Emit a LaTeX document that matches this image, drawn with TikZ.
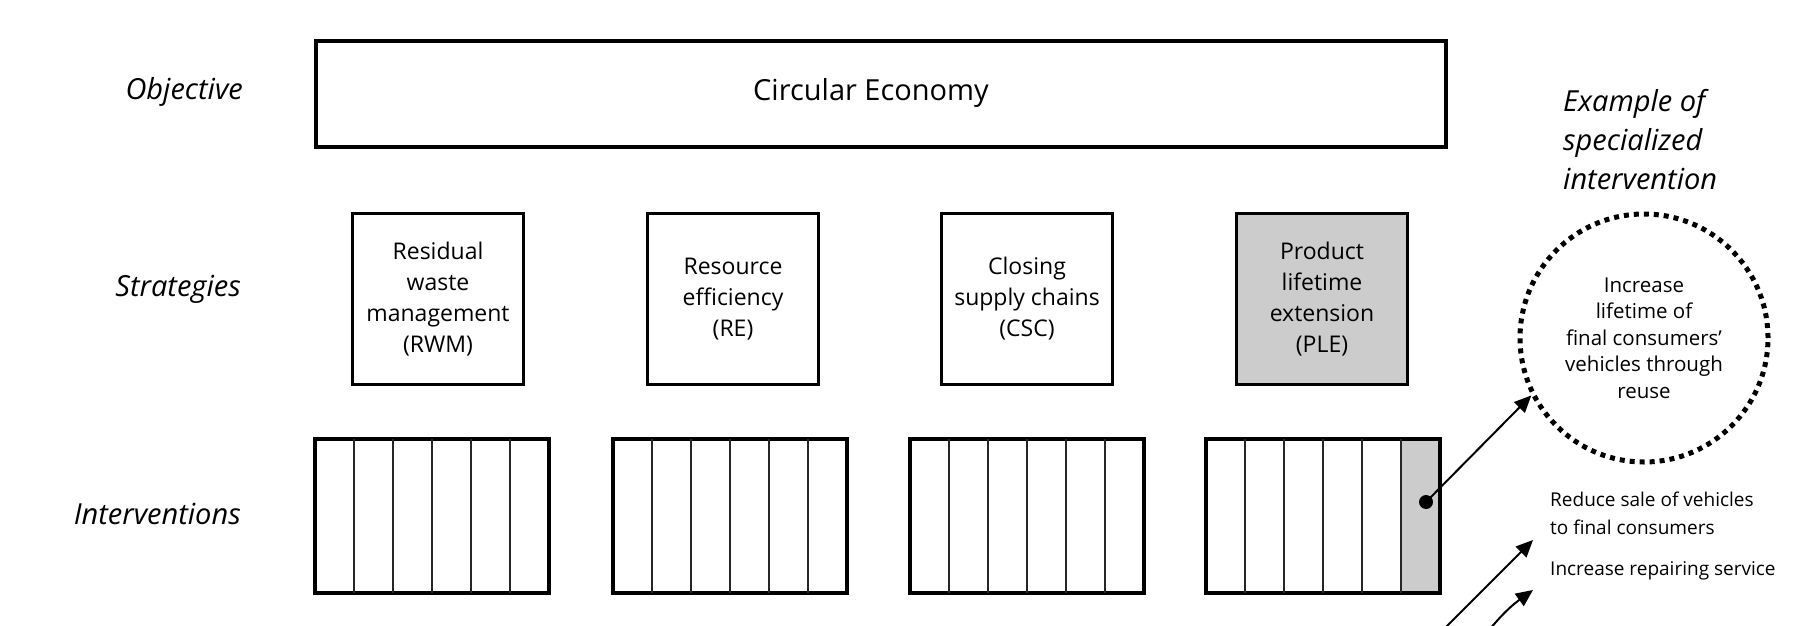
\documentclass[tikz,border=0pt]{standalone}
\usepackage{fontspec}
\setmainfont{Open Sans}
\usetikzlibrary{arrows.meta,calc,backgrounds,shapes.geometric}
\begin{document}
\begin{tikzpicture}[x=1pt,y=-1pt,
  rowlabel/.style={anchor=east,inner sep=0pt,font=\fontsize{29}{35}\selectfont\itshape},
  topbox/.style={draw,line width=4pt,minimum width=1130pt,minimum height=106pt,inner sep=0pt,outer sep=0pt},
  bigtext/.style={inner sep=0pt,font=\fontsize{29}{35}\selectfont},
  stratbox/.style={draw,line width=3.5pt,minimum width=171pt,minimum height=171pt,inner sep=0pt,outer sep=0pt,align=center,font=\fontsize{23}{31}\selectfont},
  intbox/.style={draw,line width=4.5pt,minimum width=234pt,minimum height=154pt,inner sep=0pt,outer sep=0pt},
  divider/.style={line width=2pt,black!85},
  grayfill/.style={fill=black!20},
  dotcircle/.style={draw,circle,line width=5pt,dash pattern=on 5pt off 5pt,minimum size=248pt,inner sep=0pt,outer sep=2.5pt,align=center,font=\fontsize{20.5}{26.5}\selectfont},
  arr/.style={line width=2pt,-{Triangle[length=17pt,width=15pt]}},
  smalltext/.style={anchor=west,inner sep=0pt,align=left,font=\fontsize{19}{28}\selectfont}
]
\useasboundingbox (0,0) rectangle (1804,626);
\clip (0,0) rectangle (1804,626);

% row labels
\node[rowlabel] (lobj) at (243,92) {Objective};
\node[rowlabel] (lstr) at (241,289) {Strategies};
\node[rowlabel] (lint) at (241,514) {Interventions};

% objective
\node[topbox] (ce) at (881,94) {};
\node[bigtext] (cetext) at (871,93) {Circular Economy};

% strategies
\node[stratbox] (rwm) at (438,299) {Residual\\waste\\management\\(RWM)};
\node[stratbox] (re)  at (733,299) {Resource\\efficiency\\(RE)};
\node[stratbox] (csc) at (1027,299) {Closing\\supply chains\\(CSC)};
\node[stratbox,grayfill] (ple) at (1322,299) {Product\\lifetime\\extension\\(PLE)};

% interventions
\foreach \n/\x in {i1/432,i2/730,i3/1027,i4/1323}{
  \node[intbox] (\n) at (\x,516) {};
  \foreach \k in {1,...,5}{
    \draw[divider] ($(\n.north west)!\k/6!(\n.north east)$) -- ($(\n.south west)!\k/6!(\n.south east)$);
  }
}
\begin{scope}[on background layer]
  \fill[black!20] ($(i4.north west)!5/6!(i4.north east)$) rectangle (i4.south east);
\end{scope}

% example
\node[anchor=west,inner sep=0pt,align=left,font=\fontsize{29}{39}\selectfont\itshape] (extitle) at (1563,140) {Example of\\specialized\\intervention};
\node[dotcircle] (circ) at (1644,338) {Increase\\lifetime of\\final consumers'\\vehicles through\\reuse};

\node[circle,fill,minimum size=14pt,inner sep=0pt] (dot) at (1426,502) {};
\draw[arr] (dot.center) -- (circ.207);

% other interventions
\node[smalltext] (t1) at (1550,513) {Reduce sale of vehicles\\to final consumers};
\node[smalltext] (t2) at (1550,571) {Increase repairing service};

\coordinate (b1s) at (1433,640);
\coordinate (b1e) at (1533,540);
\coordinate (b2s) at (1481,640);
\coordinate (b2e) at (1533,590);
\draw[arr] (b1s) -- (b1e);
\draw[arr] (b2s) to[bend left=8] (b2e);
\end{tikzpicture}
\end{document}
